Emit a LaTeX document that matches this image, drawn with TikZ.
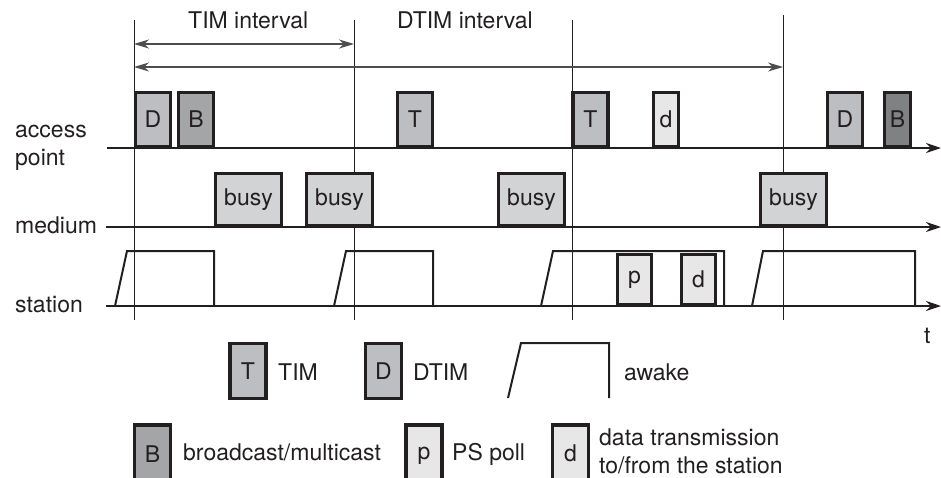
\documentclass[tikz,border=0pt]{standalone}
\usepackage{fontspec}
\setmainfont{TeX Gyre Heros}
\usetikzlibrary{arrows.meta}
\definecolor{ink}{HTML}{231F20}
\definecolor{timfill}{HTML}{BDBEC1}
\definecolor{bfill}{HTML}{A4A5A7}
\definecolor{bdark}{HTML}{808182}
\definecolor{busyfill}{HTML}{D2D3D5}
\definecolor{datafill}{HTML}{E7E7E8}
\definecolor{ivgray}{HTML}{4D4D4F}
\begin{document}
\begin{tikzpicture}[x=1pt,y=-1pt,
  font=\fontsize{23}{27}\selectfont, text=ink,
  frame/.style={draw=ink, line width=3.3pt, inner sep=0pt, minimum width=35pt, minimum height=54pt},
  apbox/.style={frame, minimum height=54pt},
  busybox/.style={frame, fill=busyfill, minimum width=66pt, minimum height=52pt},
  stbox/.style={frame, fill=datafill, minimum width=34pt, minimum height=50pt},
  lgbox/.style={frame, minimum width=36pt, minimum height=55pt},
  axis/.style={draw=ink, line width=2pt, -{Stealth[length=15pt,width=10pt]}},
  vline/.style={draw=ink, line width=0.9pt},
  interval/.style={draw=ivgray, line width=1.5pt, {Stealth[length=15pt,width=9pt]}-{Stealth[length=15pt,width=9pt]}},
  awake/.style={draw=ink, line width=2pt, line join=miter},
  lbl/.style={anchor=base west, inner sep=0pt}]
\useasboundingbox (0,0) rectangle (941,477);

% axes
\coordinate (apS) at (107,148); \coordinate (apE) at (941,148);
\coordinate (meS) at (106,227); \coordinate (meE) at (941,227);
\coordinate (stS) at (106,306); \coordinate (stE) at (941,306);

% vertical beacon lines
\coordinate (v1t) at (134,20);  \coordinate (v1b) at (134,320);
\coordinate (v2t) at (354,20);  \coordinate (v2b) at (354,320);
\coordinate (v3t) at (572,20);  \coordinate (v3b) at (572,320);
\coordinate (v4t) at (783,15);  \coordinate (v4b) at (783,320);
\draw[vline] (v1t) -- (v1b);
\draw[vline] (v2t) -- (v2b);
\draw[vline] (v3t) -- (v3b);
\draw[vline] (v4t) -- (v4b);

% interval arrows
\coordinate (y1) at (0,44);
\coordinate (y2) at (0,67);
\draw[interval] (v1t |- y1) -- (v2t |- y1);
\draw[interval] (v1t |- y2) -- (v4t |- y2);
\node[lbl] (timlbl) at (188,28) {TIM interval};
\node[lbl] (dtimlbl) at (397,28) {DTIM interval};

% awake trapezoids
\draw[awake] (115,306) -- (127,251) -- (214,251) -- (214,306);
\draw[awake] (334,306) -- (346,251) -- (433,251) -- (433,306);
\draw[awake] (541,306) -- (553,251) -- (724,251) -- (724,306);
\draw[awake] (752,306) -- (763,251) -- (915,251) -- (915,306);

% access point frames
\node[apbox, fill=timfill] (ap1) at (153,119.5) {D};
\node[apbox, fill=bfill] (ap2) at (196,119.5) {B};
\node[apbox, fill=timfill] (ap3) at (415,119.5) {T};
\node[apbox, fill=timfill] (ap4) at (590.5,119.5) {T};
\node[apbox, fill=datafill, minimum width=25pt] (ap5) at (666,119.5) {d};
\node[apbox, fill=timfill] (ap6) at (845,119.5) {D};
\node[apbox, fill=bdark, minimum width=26pt] (ap7) at (897.5,119.5) {B};

% medium
\node[busybox] (m1) at (248.5,199.5) {busy};
\node[busybox] (m2) at (339.5,199.5) {busy};
\node[busybox] (m3) at (531.5,199.5) {busy};
\node[busybox] (m4) at (793.5,199.5) {busy};

% station
\node[stbox] (s1) at (634.5,279.5) {p};
\node[stbox] (s2) at (698.5,279.5) {d};

% axes drawn on top
\draw[axis] (apS) -- (apE);
\draw[axis] (meS) -- (meE);
\draw[axis] (stS) -- (stE);

% row labels
\node[lbl] (lacc) at (15,137) {access};
\node[lbl] (lpt) at (15,165) {point};
\node[lbl] (lmed) at (15,233) {medium};
\node[lbl] (lsta) at (15,312) {station};
\node[lbl] (lt) at (924,343) {t};

% legend
\node[lgbox, fill=timfill] (lgT) at (248,371) {T};
\node[lbl] (lgTt) at (278,380) {TIM};
\node[lgbox, fill=timfill] (lgD) at (383.5,371) {D};
\node[lbl] (lgDt) at (413,380) {DTIM};
\draw[awake] (508,398) -- (521,343) -- (609,343) -- (609,398);
\node[lbl] (lgAt) at (624,380) {awake};

\node[lgbox, fill=bfill, minimum height=62pt] (lgB) at (152.5,456) {\raisebox{4pt}{B}};
\node[lbl] (lgBt) at (183,460) {broadcast/multicast};
\node[lgbox, fill=datafill, minimum height=62pt] (lgP) at (424,456) {\raisebox{4pt}{p}};
\node[lbl] (lgPt) at (452,460) {PS poll};
\node[lgbox, fill=datafill, minimum height=62pt] (lgd) at (570.5,456) {\raisebox{5pt}{d}};
\node[lbl] (lgdt1) at (599,445) {data transmission};
\node[lbl] (lgdt2) at (599,473) {to/from the station};
\end{tikzpicture}
\end{document}
